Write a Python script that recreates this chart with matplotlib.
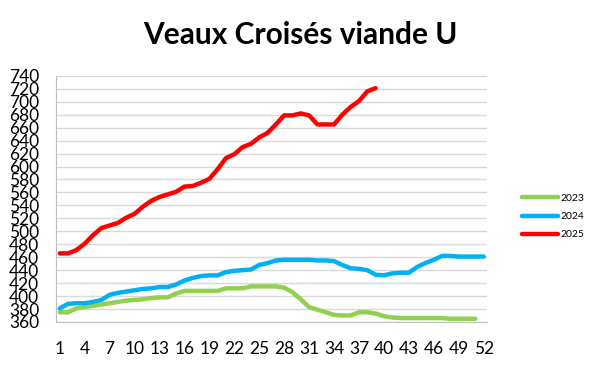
import matplotlib
matplotlib.use("Agg")
import matplotlib.pyplot as plt

plt.rcParams['font.family'] = ['Lato', 'DejaVu Sans']

# semaines
weeks_2023 = list(range(1, 52))
weeks_2024 = list(range(1, 53))
weeks_2025 = list(range(1, 40))

prix_2023 = [375, 375, 381, 383, 385, 387, 389, 391, 393, 394,
             395, 397, 398, 398, 404, 408, 408, 408, 408, 408,
             412, 412, 412, 415, 415, 415, 415, 413, 406, 395,
             383, 379, 375, 371, 370, 370, 375, 375, 373, 369,
             367, 366, 366, 366, 366, 366, 366, 365, 365, 365, 365]

prix_2024 = [381, 388, 389, 389, 391, 394, 402, 405, 407, 409,
             411, 412, 414, 414, 418, 424, 428, 431, 432, 432,
             437, 439, 440, 441, 448, 451, 455, 456, 456, 456,
             456, 455, 455, 454, 448, 443, 442, 440, 433, 432,
             435, 436, 436, 445, 451, 456, 462, 462, 461, 461,
             461, 461]

prix_2025 = [466, 466, 471, 481, 494, 505, 509, 513, 521, 527,
             538, 547, 553, 557, 561, 569, 570, 575, 581, 596,
             613, 619, 630, 635, 645, 652, 665, 679, 679, 682,
             679, 665, 665, 665, 680, 692, 701, 716, 721]

x_ticks = list(range(1, 53, 3))
y_ticks = list(range(360, 741, 20))

fig = plt.figure(figsize=(6, 3.69), dpi=100)
ax = fig.add_axes([0.093, 0.1274, 0.718, 0.667])

ax.plot(weeks_2023, prix_2023, color='#92D050', lw=3.2, label='2023', solid_capstyle='round')
ax.plot(weeks_2024, prix_2024, color='#00B0F0', lw=3.2, label='2024', solid_capstyle='round')
ax.plot(weeks_2025, prix_2025, color='#FF0000', lw=3.2, label='2025', solid_capstyle='round')

ax.set_xlim(0.52, 52.36)
ax.set_ylim(360, 740)
ax.set_xticks(x_ticks)
ax.set_yticks(y_ticks)
ax.tick_params(axis='both', length=0, labelsize=12.5)
ax.tick_params(axis='x', pad=14)
ax.tick_params(axis='y', pad=12)
ax.grid(axis='y', color='#d9d9d9', lw=1)
ax.set_axisbelow(True)
for s in ['top', 'right']:
    ax.spines[s].set_visible(False)
ax.spines['left'].set_color('#bfbfbf')
ax.spines['bottom'].set_color('#bfbfbf')

fig.text(0.5, 0.905, 'Veaux Croisés viande U', ha='center', va='center',
         fontsize=21.5, fontweight='bold')

fig.legend(loc='center left', bbox_to_anchor=(0.855, 0.413), frameon=False,
           fontsize=7.5, handlelength=3.4, handletextpad=0.3, labelspacing=0.85)

fig.savefig('out.png', dpi=100)
